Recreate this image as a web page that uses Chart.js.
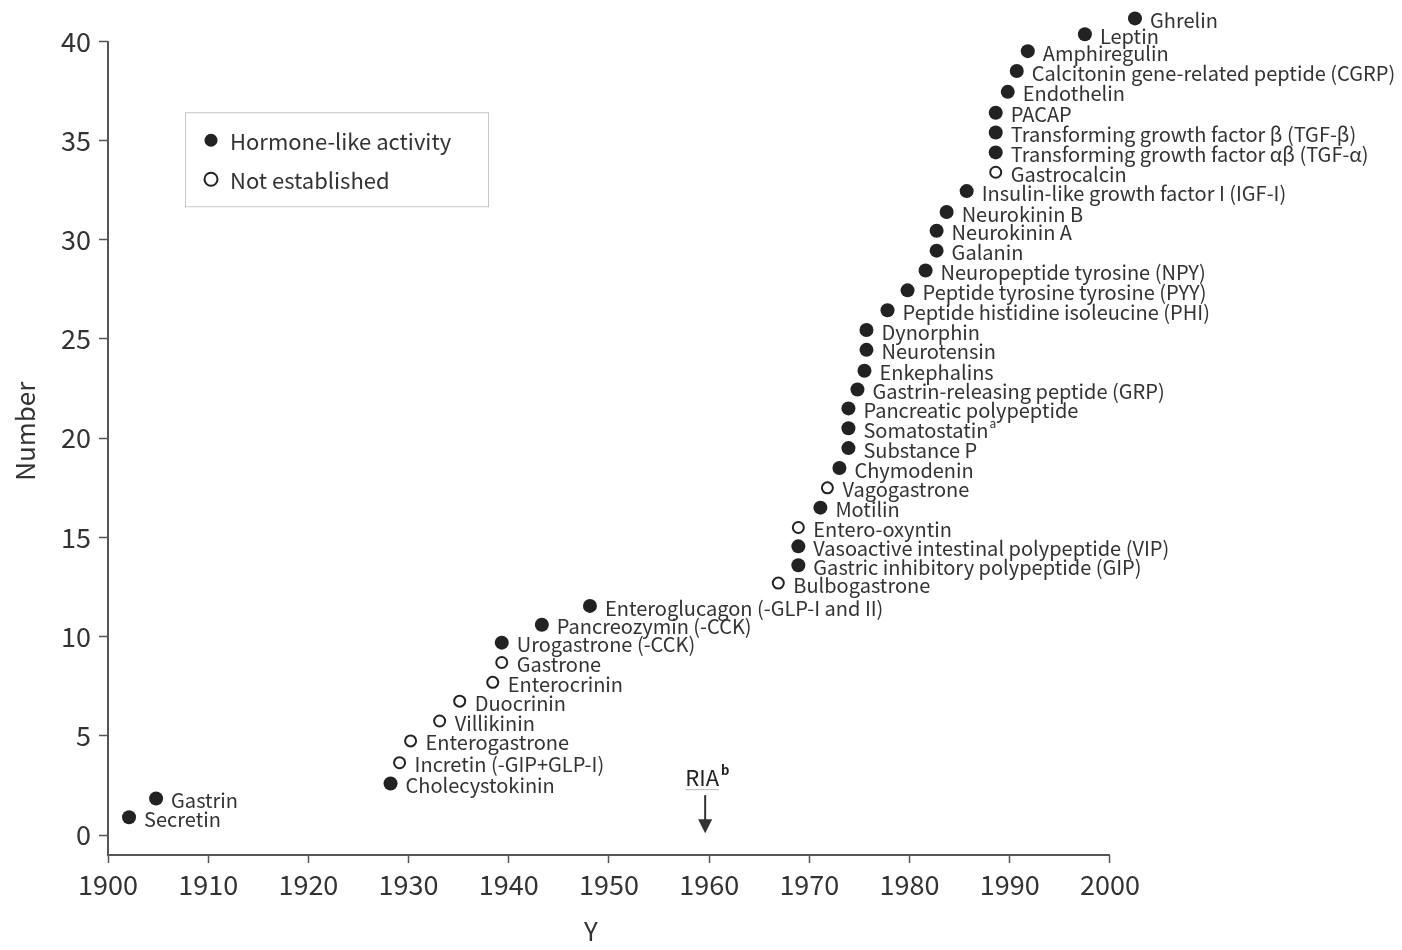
<!DOCTYPE html>
<html>
<head>
<meta charset="utf-8">
<script src="https://cdn.jsdelivr.net/npm/chart.js@4"></script>
<style>
  body { margin: 0; background: #fff; }
  #wrap { width: 1402px; height: 950px; }
</style>
</head>
<body>
<div id="wrap"><canvas id="myChart" width="1402" height="950"></canvas></div>
<script>
// hormones in order of discovery
const names = ['Secretin', 'Gastrin', 'Cholecystokinin', 'Incretin (-GIP+GLP-I)', 'Enterogastrone',
  'Villikinin', 'Duocrinin', 'Enterocrinin', 'Gastrone', 'Urogastrone (-CCK)', 'Pancreozymin (-CCK)',
  'Enteroglucagon (-GLP-I and II)', 'Bulbogastrone', 'Gastric inhibitory polypeptide (GIP)',
  'Vasoactive intestinal polypeptide (VIP)', 'Entero-oxyntin', 'Motilin', 'Vagogastrone', 'Chymodenin',
  'Substance P', 'Somatostatin^a', 'Pancreatic polypeptide', 'Gastrin-releasing peptide (GRP)',
  'Enkephalins', 'Neurotensin', 'Dynorphin', 'Peptide histidine isoleucine (PHI)',
  'Peptide tyrosine tyrosine (PYY)', 'Neuropeptide tyrosine (NPY)', 'Galanin', 'Neurokinin A',
  'Neurokinin B', 'Insulin-like growth factor I (IGF-I)', 'Gastrocalcin',
  'Transforming growth factor αβ (TGF-α)', 'Transforming growth factor β (TGF-β)', 'PACAP',
  'Endothelin', 'Calcitonin gene-related peptide (CGRP)', 'Amphiregulin', 'Leptin', 'Ghrelin']
const years = [1902.1, 1904.8, 1928.2, 1929.1, 1930.2, 1933.1, 1935.1, 1938.4, 1939.3, 1939.3, 1943.3,
  1948.1, 1966.9, 1968.9, 1968.9, 1968.9, 1971.1, 1971.8, 1973.0, 1973.9, 1973.9, 1973.9, 1974.8,
  1975.5, 1975.7, 1975.7, 1977.8, 1979.8, 1981.6, 1982.7, 1982.7, 1983.7, 1985.7, 1988.6, 1988.6,
  1988.6, 1988.6, 1989.8, 1990.7, 1991.8, 1997.5, 2002.5]
const counts = [0.9, 1.85, 2.6, 3.65, 4.75, 5.75, 6.75, 7.7, 8.7, 9.7, 10.6, 11.55, 12.7, 13.6, 14.55,
  15.5, 16.5, 17.5, 18.5, 19.5, 20.5, 21.5, 22.45, 23.4, 24.45, 25.45, 26.45, 27.45, 28.45, 29.45,
  30.45, 31.4, 32.45, 33.4, 34.4, 35.4, 36.4, 37.45, 38.5, 39.5, 40.35, 41.15]
// 1 = hormone-like activity, 0 = not established
const established = [1, 1, 1, 0, 0, 0, 0, 0, 0, 1, 1, 1, 0, 1, 1, 0, 1, 0, 1, 1, 1, 1, 1, 1, 1, 1, 1,
  1, 1, 1, 1, 1, 1, 0, 1, 1, 1, 1, 1, 1, 1, 1]
const xTicks = [1900, 1910, 1920, 1930, 1940, 1950, 1960, 1970, 1980, 1990, 2000]
const yTicks = [0, 5, 10, 15, 20, 25, 30, 35, 40]
const riaYear = 1959.6
const legendLabels = ['Hormone-like activity', 'Not established']

const FONT = '"Noto Sans CJK SC", "Noto Sans", sans-serif'
const INK = '#222'
const AXIS = '#555'

function pointsFor(flag) {
    let out = []
    names.forEach(function (n, i) {
        if (established[i] == flag) {
            let parts = n.split('^')
            out.push({ x: years[i], y: counts[i], name: parts[0], sup: parts[1] })
        }
    })
    return out
}

// axis lines only span the ticked range (points run past it)
const axisLines = {
    id: 'axisLines',
    beforeDatasetsDraw(chart) {
        const ctx = chart.ctx
        const sx = chart.scales.x, sy = chart.scales.y
        let x0 = sx.getPixelForValue(xTicks[0]), x1 = sx.getPixelForValue(xTicks[xTicks.length - 1])
        let yb = chart.chartArea.bottom, yt = sy.getPixelForValue(yTicks[yTicks.length - 1])
        ctx.save()
        ctx.strokeStyle = AXIS
        ctx.lineWidth = 2
        ctx.beginPath()
        ctx.moveTo(x0, yt)
        ctx.lineTo(x0, yb)
        ctx.lineTo(x1, yb)
        ctx.stroke()
        // x title sits a little left of the axis centre in the original
        ctx.fillStyle = '#333'
        ctx.font = '26px ' + FONT
        ctx.textAlign = 'center'
        ctx.textBaseline = 'middle'
        ctx.fillText('Y', x0 + 483, chart.height - 19)
        ctx.restore()
    }
}

const pointLabels = {
    id: 'pointLabels',
    afterDatasetsDraw(chart) {
        const ctx = chart.ctx
        ctx.save()
        ctx.fillStyle = '#333'
        ctx.textBaseline = 'middle'
        chart.data.datasets.forEach(function (ds, di) {
            chart.getDatasetMeta(di).data.forEach(function (pt, i) {
                let item = ds.data[i]
                ctx.font = '20px ' + FONT
                let x = pt.x + 15
                let y = pt.y + 2
                ctx.fillText(item.name, x, y)
                if (item.sup) {
                    let w = ctx.measureText(item.name).width
                    ctx.font = '12px ' + FONT
                    ctx.fillText(item.sup, x + w + 1, y - 7)
                }
            })
        })
        ctx.restore()
    }
}

const boxLegend = {
    id: 'boxLegend',
    afterDraw(chart) {
        const ctx = chart.ctx
        const a = chart.chartArea
        let left = a.left + 77, top = chart.scales.y.getPixelForValue(40) + 71
        ctx.save()
        ctx.strokeStyle = '#c8c8c8'
        ctx.lineWidth = 1
        ctx.strokeRect(left + 0.5, top + 0.5, 303, 94)
        ctx.font = '22px ' + FONT
        ctx.fillStyle = '#333'
        ctx.textBaseline = 'middle'
        legendLabels.forEach(function (txt, i) {
            let cy = top + 28 + i * 39
            ctx.beginPath()
            ctx.arc(left + 26, cy, 6.5, 0, Math.PI * 2)
            if (i == 0) {
                ctx.fillStyle = INK
                ctx.fill()
            } else {
                ctx.fillStyle = '#fff'
                ctx.fill()
                ctx.strokeStyle = INK
                ctx.lineWidth = 2
                ctx.stroke()
            }
            ctx.fillStyle = '#333'
            ctx.fillText(txt, left + 45, cy + 1)
        })
        ctx.restore()
    }
}

const riaArrow = {
    id: 'riaArrow',
    afterDraw(chart) {
        const ctx = chart.ctx
        let x = chart.scales.x.getPixelForValue(riaYear)
        let tip = chart.scales.y.getPixelForValue(0.1)
        ctx.save()
        ctx.fillStyle = '#222'
        ctx.font = '22px ' + FONT
        ctx.textBaseline = 'alphabetic'
        let w = ctx.measureText('RIA').width
        ctx.fillText('RIA', x - w / 2 - 3, tip - 47)
        ctx.font = 'bold 13px ' + FONT
        ctx.fillText('b', x + w / 2 - 1, tip - 58)
        ctx.strokeStyle = '#bbb'
        ctx.lineWidth = 1
        ctx.beginPath()
        ctx.moveTo(x - w / 2 - 3, tip - 43.5)
        ctx.lineTo(x + w / 2 - 3, tip - 43.5)
        ctx.stroke()
        ctx.strokeStyle = '#333'
        ctx.lineWidth = 2
        ctx.beginPath()
        ctx.moveTo(x, tip - 38)
        ctx.lineTo(x, tip - 12)
        ctx.stroke()
        ctx.fillStyle = '#333'
        ctx.beginPath()
        ctx.moveTo(x - 7, tip - 14)
        ctx.lineTo(x + 7, tip - 14)
        ctx.lineTo(x, tip)
        ctx.closePath()
        ctx.fill()
        ctx.restore()
    }
}

Chart.defaults.font.family = FONT
Chart.defaults.color = '#333'

const ctx = document.getElementById('myChart')
new Chart(ctx, {
    type: 'scatter',
    data: {
        datasets: [{
            label: legendLabels[0],
            data: pointsFor(1),
            pointRadius: 7,
            pointHoverRadius: 7,
            pointBackgroundColor: INK,
            pointBorderWidth: 0,
            clip: false
        }, {
            label: legendLabels[1],
            data: pointsFor(0),
            pointRadius: 5.5,
            pointHoverRadius: 5.5,
            pointBackgroundColor: '#fff',
            pointBorderColor: INK,
            pointBorderWidth: 2,
            clip: false
        }]
    },
    options: {
        responsive: false,
        animation: false,
        events: [],
        layout: { padding: { top: 2, right: 262, left: 0, bottom: 0 } },
        plugins: {
            legend: { display: false },
            tooltip: { enabled: false }
        },
        scales: {
            x: {
                type: 'linear',
                min: 1900,
                max: 2003,
                afterBuildTicks: function (scale) { scale.ticks = xTicks.map(v => ({ value: v })) },
                afterFit: function (scale) {
                    scale.height = 95
                    scale.paddingLeft = 0
                    scale.paddingRight = 0
                },
                grid: { drawOnChartArea: false, drawTicks: true, tickLength: 8, color: AXIS, tickWidth: 1.5 },
                border: { display: false },
                ticks: { padding: 6, font: { size: 27 }, color: '#333', callback: v => String(v) },
                title: { display: false }
            },
            y: {
                min: -1,
                max: 41.7,
                afterBuildTicks: function (scale) { scale.ticks = yTicks.map(v => ({ value: v })) },
                afterFit: function (scale) {
                    scale.width = 108
                    scale.paddingTop = 0
                    scale.paddingBottom = 0
                },
                grid: { drawOnChartArea: false, drawTicks: true, tickLength: 9, color: AXIS, tickWidth: 1.5 },
                border: { display: false },
                ticks: { padding: 8, font: { size: 27 }, color: '#333' },
                title: { display: true, text: 'Number', font: { size: 26 }, color: '#333', padding: { top: 10, bottom: 0 } }
            }
        }
    },
    plugins: [axisLines, pointLabels, boxLegend, riaArrow]
})
</script>
</body>
</html>
